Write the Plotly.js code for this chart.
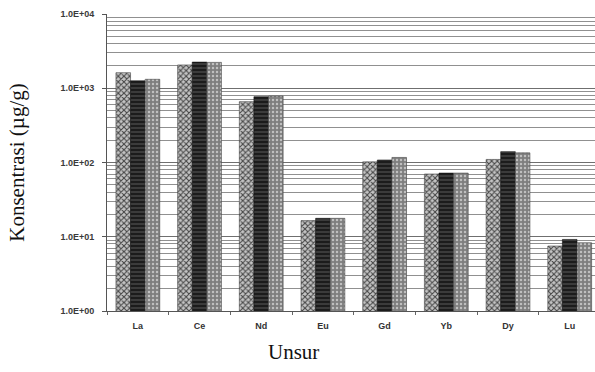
<!DOCTYPE html>
<html>
<head>
<meta charset="utf-8">
<script src="https://cdn.plot.ly/plotly-3.0.1.min.js"></script>
<style>html,body{margin:0;padding:0;background:#fff;}#chart{width:595px;height:372px;}</style>
</head>
<body>
<div id="chart"></div>
<script>
var categories = ["La", "Ce", "Nd", "Eu", "Gd", "Yb", "Dy", "Lu"];
var series1 = [1620, 2060, 660, 16.5, 102, 70, 110, 7.5];
var series2 = [1260, 2250, 770, 17.7, 108, 72, 140, 9.2];
var series3 = [1320, 2230, 785, 17.7, 117, 72, 135, 8.3];
var yTickVals = [1, 10, 100, 1000, 10000];
var yTickText = ["1.0E+00", "1.0E+01", "1.0E+02", "1.0E+03", "1.0E+04"];

var traces = [
  {type: "bar", x: categories, y: series1, name: "1",
   marker: {color: "#a8a8a8", line: {color: "#444", width: 0.6},
            pattern: {shape: "x", fgcolor: "#444", bgcolor: "#c4c4c4", size: 4, solidity: 0.45}}},
  {type: "bar", x: categories, y: series2, name: "2",
   marker: {color: "#1e1e1e", line: {color: "#111", width: 0.6},
            pattern: {shape: "-", fgcolor: "#6a6a6a", bgcolor: "#1c1c1c", size: 4, solidity: 0.2}}},
  {type: "bar", x: categories, y: series3, name: "3",
   marker: {color: "#8a8a8a", line: {color: "#444", width: 0.6},
            pattern: {shape: ".", fgcolor: "#c0c0c0", bgcolor: "#7e7e7e", size: 4, solidity: 0.3}}}
];

var layout = {
  width: 595, height: 372,
  margin: {l: 107, r: 0, t: 14, b: 61},
  paper_bgcolor: "#fff", plot_bgcolor: "#fff",
  showlegend: false,
  barmode: "group",
  bargap: 0.29, bargroupgap: 0,
  font: {family: "Liberation Sans, Arial, sans-serif", color: "#333"},
  xaxis: {
    type: "category",
    range: [-0.5, 7.41],
    showline: true, linecolor: "#555", linewidth: 1,
    ticks: "outside", ticklen: 3, tickcolor: "#666", tickson: "boundaries",
    ticklabelstandoff: 6,
    showgrid: false,
    tickfont: {size: 9, color: "#333", weight: "bold", family: "Liberation Sans, Arial, sans-serif"},
    title: {text: ""}
  },
  yaxis: {
    type: "log",
    range: [0, 4],
    tickvals: yTickVals, ticktext: yTickText,
    showline: true, linecolor: "#555", linewidth: 1,
    ticks: "outside", ticklen: 4, tickcolor: "#555",
    ticklabelstandoff: 6,
    showgrid: true, gridcolor: "#6f6f6f", gridwidth: 1,
    minor: {showgrid: true, gridcolor: "#909090", gridwidth: 1, dtick: "D1", ticks: ""},
    tickfont: {size: 9, color: "#3a3a3a", weight: "bold", family: "Liberation Sans, Arial, sans-serif"},
    title: {text: "Konsentrasi (µg/g)", font: {family: "Liberation Serif, Times New Roman, serif", size: 21, color: "#111"}, standoff: 30},
    zeroline: false
  },
  annotations: [
    {text: "Unsur", xref: "paper", yref: "paper", x: 0.383, y: -0.138,
     xanchor: "center", yanchor: "middle", showarrow: false,
     font: {family: "Liberation Serif, Times New Roman, serif", size: 21, color: "#111"}}
  ]
};

Plotly.newPlot("chart", traces, layout, {displayModeBar: false, staticPlot: true});
</script>
</body>
</html>
